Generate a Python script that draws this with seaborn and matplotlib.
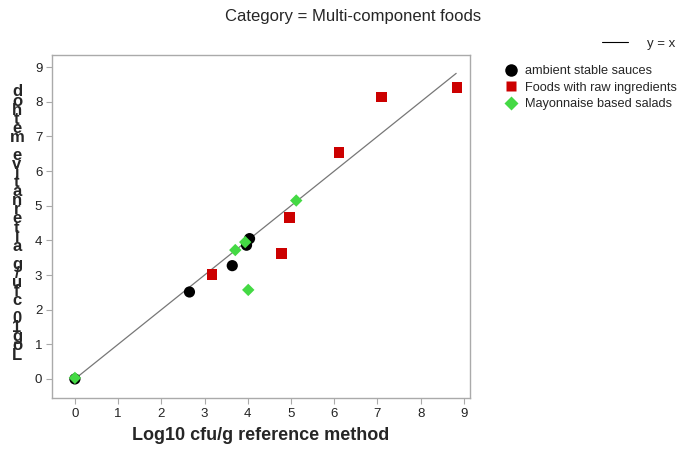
import matplotlib
matplotlib.use("Agg")
import matplotlib.pyplot as plt
import seaborn as sns
import pandas as pd
from matplotlib.lines import Line2D

sns.set_theme(style="white")
plt.rcParams['font.family'] = ['Liberation Sans', 'DejaVu Sans']

# Data
sauces_x = [0.0, 2.65, 3.64, 3.97, 4.04]
sauces_y = [0.0, 2.51, 3.27, 3.86, 4.05]
raw_x = [3.17, 4.78, 4.97, 6.11, 7.10, 8.84]
raw_y = [3.02, 3.63, 4.67, 6.53, 8.14, 8.42]
mayo_x = [0.0, 3.71, 3.94, 4.01, 5.12]
mayo_y = [0.03, 3.72, 3.95, 2.57, 5.15]
categories = ["ambient stable sauces", "Foods with raw ingredients", "Mayonnaise based salads"]
line_x = [0.0, 8.82]
ticks = list(range(10))

df = pd.DataFrame({
    "x": sauces_x + raw_x + mayo_x,
    "y": sauces_y + raw_y + mayo_y,
    "cat": [categories[0]] * len(sauces_x) + [categories[1]] * len(raw_x) + [categories[2]] * len(mayo_x),
})

colors = {categories[0]: "#000000", categories[1]: "#CC0000", categories[2]: "#44D944"}
markers = {categories[0]: "o", categories[1]: "s", categories[2]: "D"}
sizes = {categories[0]: 65, categories[1]: 60, categories[2]: 40}

fig = plt.figure(figsize=(6.85, 4.5), dpi=100)
ax = fig.add_axes([52/685, 1 - 398/450, (470-52)/685, (398-55)/450])

ax.plot(line_x, line_x, color="#777777", lw=0.9, zorder=1)
for c in categories:
    sub = df[df["cat"] == c]
    sns.scatterplot(data=sub, x="x", y="y", color=colors[c], marker=markers[c],
                    s=sizes[c], edgecolor="none", linewidth=0, ax=ax, zorder=3, legend=False)

ax.set_xlim(-0.53, 9.14)
ax.set_ylim(-0.55, 9.35)
ax.set_xticks(ticks)
ax.set_yticks(ticks)
ax.set_xticklabels([str(t) for t in ticks], fontsize=9.5, color="#222222")
ax.set_yticklabels([str(t) for t in ticks], fontsize=9.5, color="#222222")
ax.tick_params(axis="both", which="major", length=4, width=0.8, color="#aaaaaa",
               direction="out", bottom=True, left=True, pad=3)
for sp in ax.spines.values():
    sp.set_color("#aaaaaa")
    sp.set_linewidth(1.0)
ax.set_xlabel("Log10 cfu/g reference method", fontsize=13, fontweight="bold", labelpad=5)
ax.set_ylabel("")

fig.text(353/685, 1 - 16/450, "Category = Multi-component foods", ha="center", va="center", fontsize=12)

# stacked y label (bottom to top), glyphs upright as in the reference
ylabel = "Log10 cfu/g alternative method"
top_px, bot_px = 92, 355
n = len(ylabel)
for i, ch in enumerate(ylabel):
    ypx = bot_px - i * (bot_px - top_px) / (n - 1)
    fig.text(17/685, 1 - ypx/450, ch, ha="center", va="center", fontsize=12, fontweight="bold")

# y = x legend
leg1 = fig.legend(handles=[Line2D([0], [0], color="#000000", lw=0.8)], labels=["y = x"],
                  loc="upper left", bbox_to_anchor=(590/685, 1 - 26/450), frameon=False,
                  fontsize=9.5, handlelength=2.0, handletextpad=1.4)

handles = [Line2D([0], [0], marker=markers[c], color="none", markerfacecolor=colors[c],
                  markeredgecolor="none", markersize=ms) for c, ms in zip(categories, [9, 7.5, 7])]
leg2 = fig.legend(handles=handles, labels=categories, loc="upper left",
                  bbox_to_anchor=(497/685, 1 - 59/450), frameon=False, fontsize=9.2,
                  handlelength=1.2, handletextpad=0.5, labelspacing=0.35, borderpad=0)

fig.savefig("out.png", dpi=100)
